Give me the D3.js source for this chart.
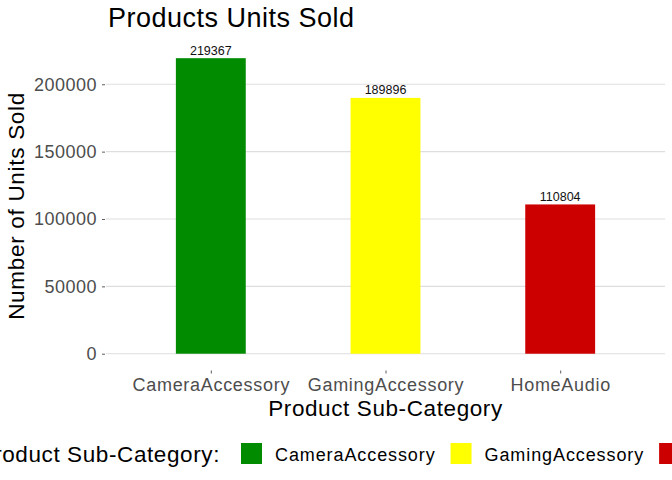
<!DOCTYPE html>
<html>
<head>
<meta charset="utf-8">
<script src="https://cdn.jsdelivr.net/npm/d3@7"></script>
<style>
  body { margin: 0; background: #fff; }
  svg { font-family: "Liberation Sans", Arial, sans-serif; }
</style>
</head>
<body>
<div id="chart"></div>
<script>
// data
var categories = ["CameraAccessory", "GamingAccessory", "HomeAudio"];
var unitsSold = [219367, 189896, 110804];
var barColors = ["#008B00", "#FFFF00", "#CD0000"];
var yTicks = [0, 50000, 100000, 150000, 200000];

var svgWidth = 672;
var svgHeight = 480;

var panel = { left: 106, right: 665, top: 43.4, bottom: 368.5 };

var svg = d3.select("#chart")
    .append("svg")
    .attr("width", svgWidth)
    .attr("height", svgHeight);

var rows = categories.map((c, i) => ({ cat: c, value: unitsSold[i], color: barColors[i] }));

var maxVal = d3.max(unitsSold);
var xScale = d3.scalePoint()
    .domain(categories)
    .range([panel.left, panel.right])
    .padding(0.6);
var step = xScale.step();
var barWidth = step * 0.4;

var yScale = d3.scaleLinear()
    .domain([-0.05 * maxVal, maxVal * 1.05])
    .range([panel.bottom, panel.top]);

// gridlines
svg.append("g")
    .selectAll("line")
    .data(yTicks)
    .enter().append("line")
    .attr("x1", panel.left)
    .attr("x2", panel.right)
    .attr("y1", d => yScale(d))
    .attr("y2", d => yScale(d))
    .attr("stroke", "#dedede")
    .attr("stroke-width", 1.1);

// y axis
var leftAxis = d3.axisLeft(yScale)
    .tickValues(yTicks)
    .tickSize(3)
    .tickPadding(5)
    .tickFormat(d3.format("d"));

var yAxisG = svg.append("g")
    .attr("transform", `translate(${panel.left - 1},0)`)
    .call(leftAxis);
yAxisG.select(".domain").remove();
yAxisG.selectAll("line").attr("stroke", "#333").attr("stroke-width", 0.8);
yAxisG.selectAll("text")
    .attr("fill", "#4D4D4D")
    .style("font-size", "18px")
    .style("letter-spacing", "0.5px")
    .style("font-family", "Liberation Sans, Arial, sans-serif");

// x axis
var bottomAxis = d3.axisBottom(xScale)
    .tickSize(3)
    .tickPadding(5);

var xAxisG = svg.append("g")
    .attr("transform", `translate(0,${panel.bottom + 2})`)
    .call(bottomAxis);
xAxisG.select(".domain").remove();
xAxisG.selectAll("line").attr("stroke", "#333").attr("stroke-width", 0.8);
xAxisG.selectAll("text")
    .attr("fill", "#4D4D4D")
    .style("font-size", "18px")
    .style("letter-spacing", "0.7px")
    .style("font-family", "Liberation Sans, Arial, sans-serif");

// bars
svg.append("g")
    .selectAll("rect")
    .data(rows)
    .enter().append("rect")
    .attr("x", d => xScale(d.cat) - barWidth / 2)
    .attr("width", barWidth)
    .attr("y", d => yScale(d.value))
    .attr("height", d => yScale(0) - yScale(d.value))
    .attr("fill", d => d.color);

// value labels
svg.append("g")
    .selectAll("text")
    .data(rows)
    .enter().append("text")
    .attr("x", d => xScale(d.cat))
    .attr("y", d => yScale(d.value) - 3.5)
    .attr("text-anchor", "middle")
    .style("font-size", "12.5px")
    .attr("fill", "#111")
    .text(d => d.value);

// titles
svg.append("text")
    .attr("x", 108)
    .attr("y", 27)
    .style("font-size", "27px")
    .style("letter-spacing", "0.5px")
    .attr("fill", "#000")
    .text("Products Units Sold");

svg.append("text")
    .attr("x", (panel.left + panel.right) / 2)
    .attr("y", 416)
    .attr("text-anchor", "middle")
    .style("font-size", "22.5px")
    .style("letter-spacing", "0.6px")
    .attr("fill", "#000")
    .text("Product Sub-Category");

svg.append("text")
    .attr("transform", `translate(24,${(panel.top + panel.bottom) / 2}) rotate(-90)`)
    .attr("text-anchor", "middle")
    .style("font-size", "22.5px")
    .style("letter-spacing", "0.7px")
    .attr("fill", "#000")
    .text("Number of Units Sold");

// legend (wider than the picture, cut at both sides like the original)
var legend = svg.append("g");
legend.append("text")
    .attr("x", 220)
    .attr("y", 462)
    .attr("text-anchor", "end")
    .style("font-size", "22.5px")
    .style("letter-spacing", "0.6px")
    .attr("fill", "#000")
    .text("Product Sub-Category:");

var lx = 241;
rows.forEach(function(d) {
    legend.append("rect")
        .attr("x", lx)
        .attr("y", 443)
        .attr("width", 21)
        .attr("height", 21)
        .attr("fill", d.color);
    var t = legend.append("text")
        .attr("x", lx + 34)
        .attr("y", 460.5)
        .style("font-size", "18px")
        .style("letter-spacing", "0.9px")
        .attr("fill", "#000")
        .text(d.cat);
    lx = lx + 34 + t.node().getComputedTextLength() + 15;
});
</script>
</body>
</html>
